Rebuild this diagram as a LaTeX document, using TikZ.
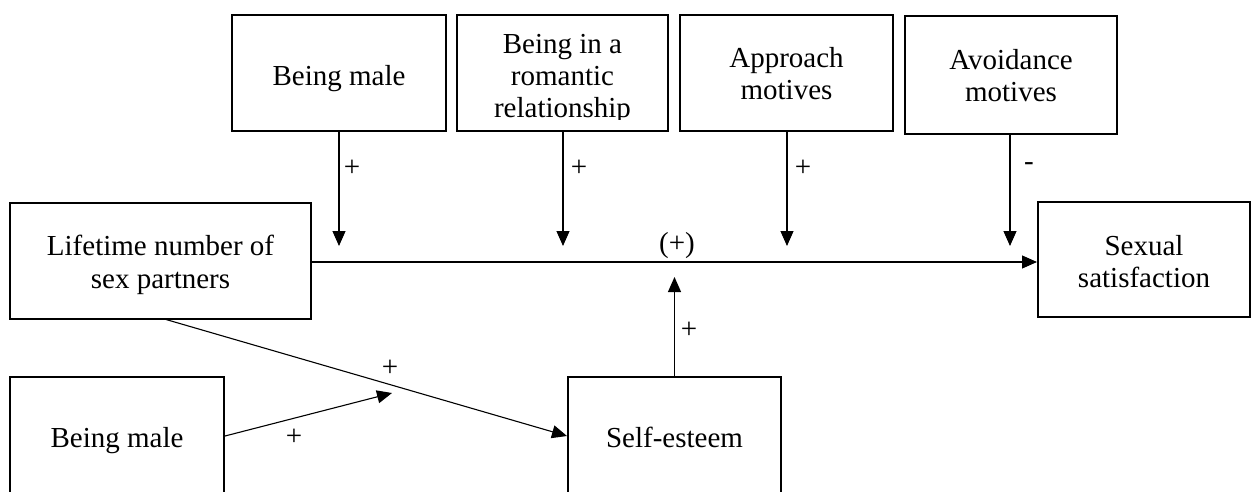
\documentclass[tikz,border=0pt]{standalone}
\usepackage{fontspec}
\setmainfont{Liberation Serif}
\usetikzlibrary{arrows.meta}
\begin{document}
\begin{tikzpicture}[x=1pt,y=-1pt,
  box/.style={draw,line width=2pt,inner sep=0pt},
  lbl/.style={font=\fontsize{29}{33}\selectfont,inner sep=0pt,anchor=base},
  sgn/.style={font=\fontsize{29}{33}\selectfont,inner sep=0pt},
  arr/.style={line width=1.1pt,-{Triangle[length=15pt,width=13pt]}}]
\useasboundingbox (0,0) rectangle (1251,491);
\clip (0,0) rectangle (1251,491);
% boxes
\node[box,minimum width=214pt,minimum height=116.5pt] (mTop) at (339,72.75) {};
\node[box,minimum width=211pt,minimum height=116.5pt] (rom) at (562.5,72.75) {};
\node[box,minimum width=213pt,minimum height=116.5pt] (appr) at (786.5,72.75) {};
\node[box,minimum width=212pt,minimum height=118pt] (avoid) at (1011,75) {};
\node[box,minimum width=301pt,minimum height=116pt] (life) at (160.5,260.5) {};
\node[box,minimum width=212pt,minimum height=115pt] (sex) at (1144,259.5) {};
\node[box,minimum width=214pt,minimum height=118pt] (mBot) at (117,436) {};
\node[box,minimum width=213pt,minimum height=118pt] (self) at (674.5,436) {};
% texts
\node[lbl] (tMaleTop) at (339,85) {Being male};
\begin{scope}
\clip (457,14) rectangle (668,119.5);
\node[lbl] (tRom1) at (562.5,53) {Being in a};
\node[lbl] (tRom2) at (562.5,85) {romantic};
\node[lbl] (tRom3) at (562.5,117) {relationship};
\end{scope}
\node[lbl] (tAppr1) at (786.5,67) {Approach};
\node[lbl] (tAppr2) at (786.5,99.5) {motives};
\node[lbl] (tAvoid1) at (1011,69) {Avoidance};
\node[lbl] (tAvoid2) at (1011,101.5) {motives};
\node[lbl] (tLife1) at (160.5,255) {Lifetime number of};
\node[lbl] (tLife2) at (160.5,288) {sex partners};
\node[lbl] (tSex1) at (1144,255) {Sexual};
\node[lbl] (tSex2) at (1144,287.5) {satisfaction};
\node[lbl] (tMaleBot) at (117,447) {Being male};
\node[lbl] (tSelf) at (674.5,447) {Self-esteem};
% free ends
\coordinate (mTip) at (339,246);
\coordinate (romTip) at (563,246);
\coordinate (apprTip) at (787,246);
\coordinate (avoidTip) at (1010,246);
\coordinate (seTip) at (674.5,277);
\coordinate (mJoin) at (392,393);
% connectors
\draw[arr] (mTop.south) -- (mTip);
\draw[arr] (rom.south -| romTip) -- (romTip);
\draw[arr] (appr.south -| apprTip) -- (apprTip);
\draw[arr] (avoid.south -| avoidTip) -- (avoidTip);
\draw[arr] (life.east |- 0,262) -- (sex.west |- 0,262);
\draw[arr] (self.north) -- (seTip);
\draw[arr] ([xshift=5.5pt]life.south) -- (self.west);
\draw[arr] (mBot.east) -- (mJoin);
% signs
\node[sgn] (s1) at (352,168) {+};
\node[sgn] (s2) at (579,168) {+};
\node[sgn] (s3) at (803,168) {+};
\node[sgn] (s4) at (1029,167) {-};
\node[lbl] (s5) at (677,252) {(+)};
\node[sgn] (s6) at (689,330) {+};
\node[sgn] (s7) at (390,368) {+};
\node[sgn] (s8) at (294,437) {+};
\end{tikzpicture}
\end{document}
